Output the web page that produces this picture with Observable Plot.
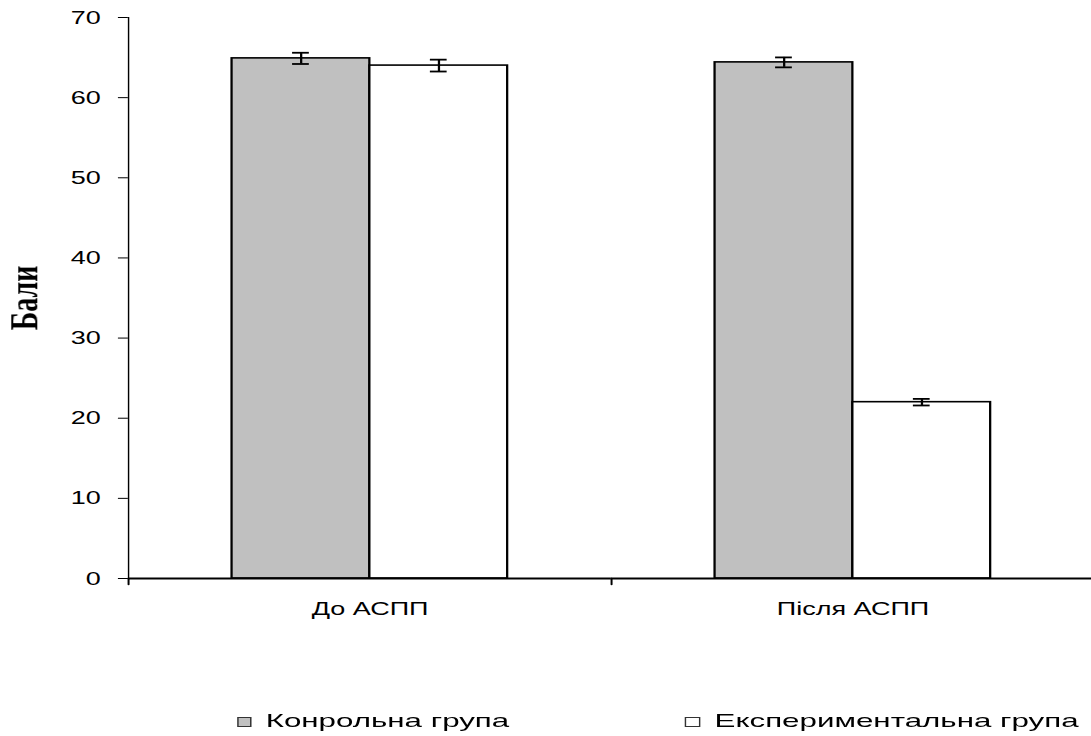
<!DOCTYPE html>
<html>
<head>
<meta charset="utf-8">
<script src="https://cdn.jsdelivr.net/npm/d3@7"></script>
<script src="https://cdn.jsdelivr.net/npm/@observablehq/plot@0.6"></script>
<style>
  html, body { margin: 0; padding: 0; background: #fff; overflow: hidden; }
  #wrap { width: 768px; transform: scaleX(1.4206); transform-origin: 0 0; }
  #chart svg { overflow: visible; display: block; }
  g[aria-label="y-axis label"] text { font-family: "Liberation Serif", "Times New Roman", serif; font-weight: bold; font-size: 28px; }
  .legend { position: relative; height: 86px; font: 19px "Liberation Sans", Arial, sans-serif; color: #000; }
  .sw { position: absolute; top: 67px; height: 10px; border: 1.2px solid #333; box-sizing: border-box; }
  .lt { position: absolute; top: 60px; line-height: 22px; white-space: nowrap; transform: scaleX(1.16); transform-origin: 0 0; }
</style>
</head>
<body>
<div id="wrap">
  <div id="chart"></div>
  <div class="legend" id="legend"></div>
</div>
<script>
const groups = ["До АСПП", "Після АСПП"];
const series = ["Конрольна група", "Експериментальна група"];
const control = [64.9, 64.4];
const controlErr = [0.7, 0.62];
const experimental = [64.0, 22.0];
const experimentalErr = [0.74, 0.41];
const yTicks = [0, 10, 20, 30, 40, 50, 60, 70];
const colors = ["#c0c0c0", "#ffffff"];

const data = [];
groups.forEach((g, i) => {
  data.push({group: g, series: series[0], value: control[i], err: controlErr[i]});
  data.push({group: g, series: series[1], value: experimental[i], err: experimentalErr[i]});
});

const chart = Plot.plot({
  width: 768,
  height: 650,
  marginLeft: 90,
  marginRight: -2,
  marginTop: 17,
  marginBottom: 72,
  style: {fontFamily: '"Liberation Sans", Arial, sans-serif', fontSize: "19px", color: "black", background: "white", overflow: "visible"},
  fx: {domain: groups, padding: 0, label: null, axis: "bottom", tickSize: 0, tickPadding: 23},
  x: {domain: series, paddingInner: 0, paddingOuter: 0.75, axis: null},
  y: {domain: [0, 70], ticks: yTicks, tickSize: 7, tickPadding: 12.5, line: true, label: "Бали", labelArrow: false, labelAnchor: "center", labelOffset: 84},
  color: {domain: series, range: colors},
  marks: [
    Plot.barY(data, {fx: "group", x: "series", y: "value", fill: "series", stroke: "black", strokeWidth: 1.6}),
    Plot.ruleY([0], {stroke: "black", strokeWidth: 2}),
    Plot.ruleX(data, {fx: "group", x: "series", y1: d => d.value - d.err, y2: d => d.value + d.err, stroke: "black", strokeWidth: 1.6}),
    Plot.tickY(data, {fx: "group", x: "series", y: d => d.value - d.err, insetLeft: 42.6, insetRight: 42.6, stroke: "black", strokeWidth: 1.8}),
    Plot.tickY(data, {fx: "group", x: "series", y: d => d.value + d.err, insetLeft: 42.6, insetRight: 42.6, stroke: "black", strokeWidth: 1.8}),
    Plot.vector(groups, {fx: d => d, frameAnchor: "bottom-left", length: 6, rotate: 180, anchor: "start", stroke: "black", strokeWidth: 1.4,
      shape: {draw(context, l) { context.moveTo(0, 0); context.lineTo(0, -l); }}})
  ]
});
document.getElementById("chart").appendChild(chart);
// strip any arrow glyph that older Plot versions add to the axis label
chart.querySelectorAll('g[aria-label="y-axis label"] text').forEach(t => {
  t.textContent = t.textContent.replace(/[↑↓→←]/g, "").trim();
});

const legend = document.getElementById("legend");
const swLeft = [166.8, 482.2];
const swWidth = [9.9, 10.5];
const textLeft = [186.5, 503.3];
series.forEach((s, i) => {
  const sw = document.createElement("div");
  sw.className = "sw";
  sw.style.left = swLeft[i] + "px";
  sw.style.width = swWidth[i] + "px";
  sw.style.background = colors[i];
  const t = document.createElement("div");
  t.className = "lt";
  t.style.left = textLeft[i] + "px";
  t.textContent = s;
  legend.appendChild(sw);
  legend.appendChild(t);
});
</script>
</body>
</html>
